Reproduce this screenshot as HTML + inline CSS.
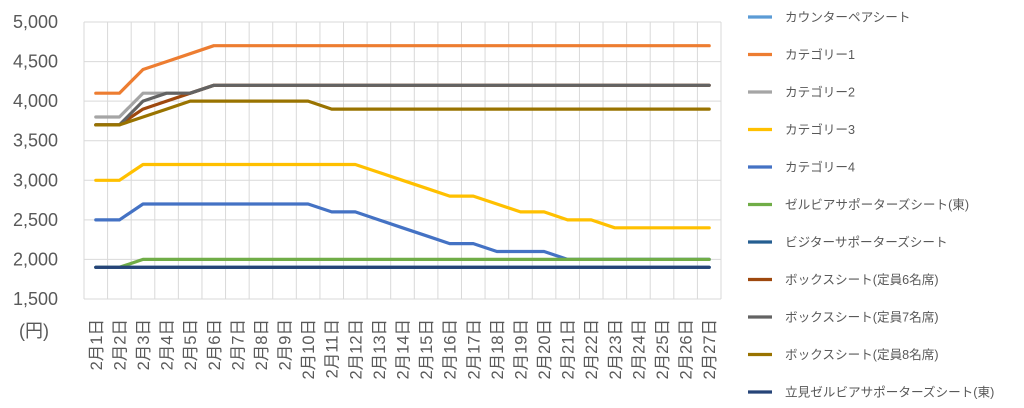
<!DOCTYPE html>
<html><head><meta charset="utf-8"><style>
html,body{margin:0;padding:0;background:#fff;}
svg{display:block;font-family:"Liberation Sans","Noto Sans CJK JP",sans-serif;}
</style></head><body>
<svg id="c" width="1024" height="408" viewBox="0 0 1024 408">
<g id="grid"></g>
<g id="yt"></g>
<g id="xt"></g>
<g id="ser"></g>
<g id="leg"></g>
<text x="34" y="337" font-size="18" fill="#595959" text-anchor="middle">(円)</text>
</svg>
<script>
const categories = Array.from({length:27},(_,i)=>"2月"+(i+1)+"日");
const yTicks = [1500,2000,2500,3000,3500,4000,4500,5000];
const seriesNames = ["カウンターペアシート","カテゴリー1","カテゴリー2","カテゴリー3","カテゴリー4","ゼルビアサポーターズシート(東)","ビジターサポーターズシート","ボックスシート(定員6名席)","ボックスシート(定員7名席)","ボックスシート(定員8名席)","立見ゼルビアサポーターズシート(東)"];
const seriesColors = ["#5b9bd5","#ed7d31","#a5a5a5","#ffc000","#4472c4","#70ad47","#255e91","#9e480e","#636363","#997300","#264478"];
const sCounter = [1900,1900,1900,1900,1900,1900,1900,1900,1900,1900,1900,1900,1900,1900,1900,1900,1900,1900,1900,1900,1900,1900,1900,1900,1900,1900,1900];
const sCat1 = [4100,4100,4400,4500,4600,4700,4700,4700,4700,4700,4700,4700,4700,4700,4700,4700,4700,4700,4700,4700,4700,4700,4700,4700,4700,4700,4700];
const sCat2 = [3800,3800,4100,4100,4100,4200,4200,4200,4200,4200,4200,4200,4200,4200,4200,4200,4200,4200,4200,4200,4200,4200,4200,4200,4200,4200,4200];
const sCat3 = [3000,3000,3200,3200,3200,3200,3200,3200,3200,3200,3200,3200,3100,3000,2900,2800,2800,2700,2600,2600,2500,2500,2400,2400,2400,2400,2400];
const sCat4 = [2500,2500,2700,2700,2700,2700,2700,2700,2700,2700,2600,2600,2500,2400,2300,2200,2200,2100,2100,2100,2000,2000,2000,2000,2000,2000,2000];
const sZelEast = [1900,1900,2000,2000,2000,2000,2000,2000,2000,2000,2000,2000,2000,2000,2000,2000,2000,2000,2000,2000,2000,2000,2000,2000,2000,2000,2000];
const sVisitor = [1900,1900,1900,1900,1900,1900,1900,1900,1900,1900,1900,1900,1900,1900,1900,1900,1900,1900,1900,1900,1900,1900,1900,1900,1900,1900,1900];
const sBox6 = [3700,3700,3900,4000,4100,4200,4200,4200,4200,4200,4200,4200,4200,4200,4200,4200,4200,4200,4200,4200,4200,4200,4200,4200,4200,4200,4200];
const sBox7 = [3700,3700,4000,4100,4100,4200,4200,4200,4200,4200,4200,4200,4200,4200,4200,4200,4200,4200,4200,4200,4200,4200,4200,4200,4200,4200,4200];
const sBox8 = [3700,3700,3800,3900,4000,4000,4000,4000,4000,4000,3900,3900,3900,3900,3900,3900,3900,3900,3900,3900,3900,3900,3900,3900,3900,3900,3900];
const sStand = [1900,1900,1900,1900,1900,1900,1900,1900,1900,1900,1900,1900,1900,1900,1900,1900,1900,1900,1900,1900,1900,1900,1900,1900,1900,1900,1900];
const seriesData = [sCounter,sCat1,sCat2,sCat3,sCat4,sZelEast,sVisitor,sBox6,sBox7,sBox8,sStand];
const NS="http://www.w3.org/2000/svg";
const L=84,R=721,T=22,B=299,ymin=1500,ymax=5000;
const step=(R-L)/categories.length;
const xs=i=>L+step*(i+0.5);
const ys=v=>B-(v-ymin)/(ymax-ymin)*(B-T);
function mk(t,a,p){const e=document.createElementNS(NS,t);for(const k in a)e.setAttribute(k,a[k]);p.appendChild(e);return e;}
const grid=document.getElementById('grid'),yt=document.getElementById('yt'),xt=document.getElementById('xt'),ser=document.getElementById('ser'),leg=document.getElementById('leg');
yTicks.forEach(v=>{
 const g=mk('line',{x1:L,x2:R,y1:ys(v),y2:ys(v),stroke:'#d9d9d9','stroke-width':1},grid);
 
 
 const t=mk('text',{x:58,y:ys(v)+6,'font-size':18,fill:'#595959','text-anchor':'end'},yt);
 t.textContent=v.toLocaleString('en-US');
 
 
});
for(let i=0;i<=categories.length;i++){
 const g=mk('line',{x1:L+step*i,x2:L+step*i,y1:T,y2:B,stroke:'#d9d9d9','stroke-width':1},grid);
 
 
}
categories.forEach((c,i)=>{
 const x=xs(i)+6,y=319;
 const t=mk('text',{x:x,y:y,'font-size':16.5,fill:'#595959','text-anchor':'end',transform:`rotate(-90 ${x} ${y})`},xt);
 t.textContent=c;
 
 
});
const order=[0,1,2,3,4,5,7,8,9,6,10];
order.forEach(k=>{
 const d=seriesData[k].map((v,i)=>(i?'L':'M')+xs(i).toFixed(1)+' '+ys(v).toFixed(1)).join(' ');
 const p=mk('path',{d:d,fill:'none',stroke:seriesColors[k],'stroke-width':3.2,'stroke-linejoin':'round','stroke-linecap':'round'},ser);
 
 
});
seriesNames.forEach((n,k)=>{
 const y=17+k*37.5;
 const g=mk('g',{},leg);
 
 
 mk('line',{x1:748,x2:772,y1:y,y2:y,stroke:seriesColors[k],'stroke-width':3.2},g);
 const t=mk('text',{x:785,y:y+4.5,'font-size':12.6,fill:'#595959'},g);
 t.textContent=n;
});
</script>
</body></html>
